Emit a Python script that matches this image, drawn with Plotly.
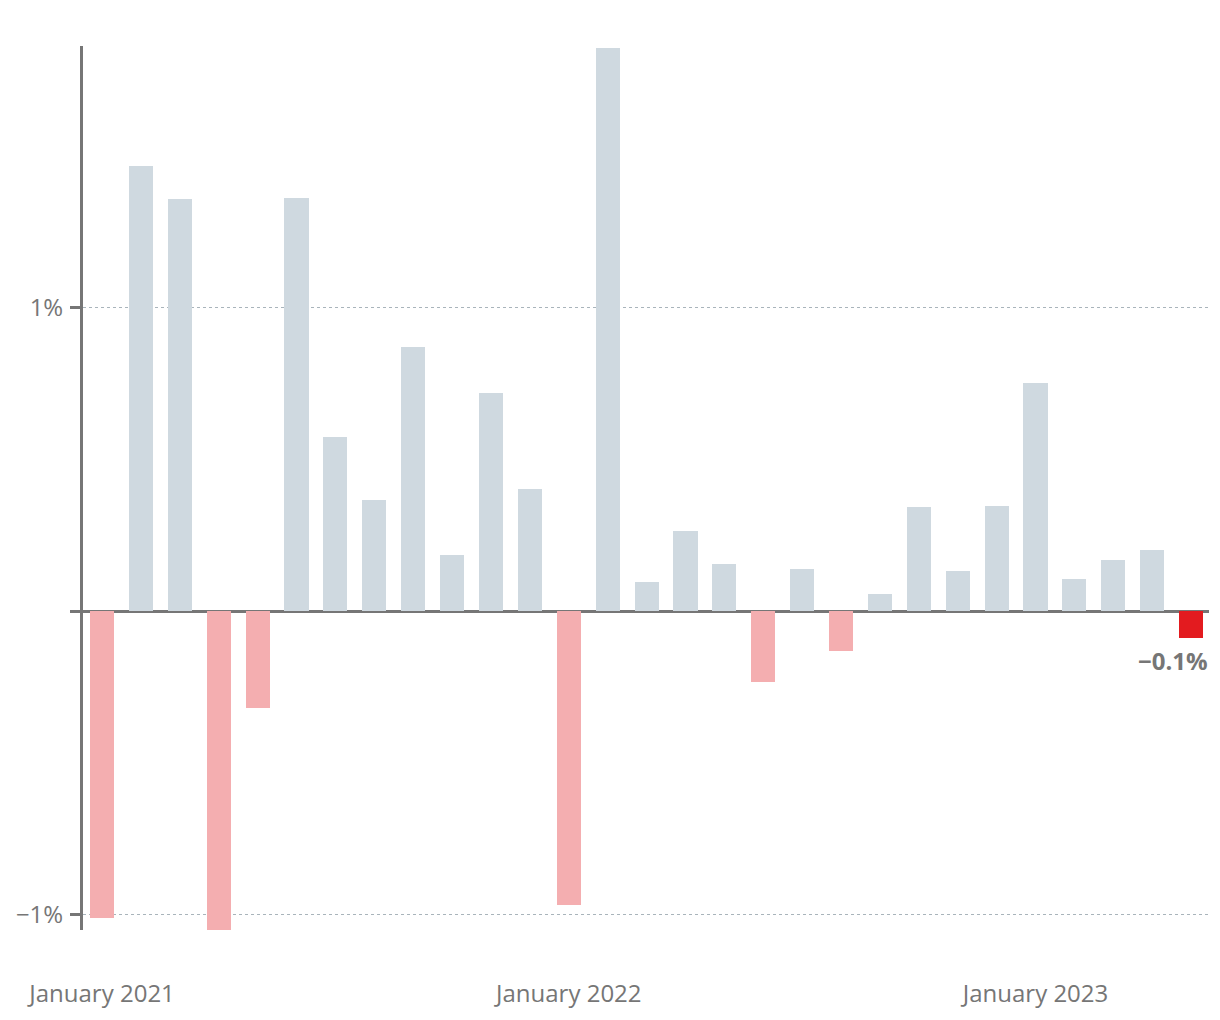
import plotly.graph_objects as go

months = ["Jan 2021","Feb 2021","Mar 2021","Apr 2021","May 2021","Jun 2021","Jul 2021","Aug 2021",
          "Sep 2021","Oct 2021","Nov 2021","Dec 2021","Jan 2022","Feb 2022","Mar 2022","Apr 2022",
          "May 2022","Jun 2022","Jul 2022","Aug 2022","Sep 2022","Oct 2022","Nov 2022","Dec 2022",
          "Jan 2023","Feb 2023","Mar 2023","Apr 2023","May 2023"]
values = [-1.01, 1.465, 1.355, -1.05, -0.32, 1.36, 0.572, 0.365, 0.868, 0.184, 0.717, 0.402,
          -0.967, 1.853, 0.095, 0.263, 0.155, -0.233, 0.138, -0.132, 0.056, 0.342, 0.132, 0.346,
          0.75, 0.105, 0.168, 0.2, -0.089]
tick_positions = [0, 12, 24]
tick_labels = ["January 2021", "January 2022", "January 2023"]
last_label = "−0.1%"

POS = "#cfd9e0"
NEG = "#f4aeb0"
HIGHLIGHT = "#e31b1f"
GREY = "#767676"

x = list(range(len(values)))
colors = [(POS if v >= 0 else NEG) for v in values]
colors[-1] = HIGHLIGHT

fig = go.Figure(go.Bar(x=x, y=values, marker=dict(color=colors, line=dict(width=0)), width=0.62))

fig.add_annotation(x=x[-1], y=values[-1], xref="x", yref="y", text="<b>%s</b>" % last_label,
                   showarrow=False, xanchor="right", yanchor="top", xshift=19, yshift=-4,
                   font=dict(size=24, color=GREY, family="Open Sans"))

fig.update_layout(
    width=1220, height=1020,
    margin=dict(l=83, r=11, t=46, b=90),
    paper_bgcolor="white", plot_bgcolor="white",
    showlegend=False,
    font=dict(family="Open Sans", color=GREY, size=24),
    bargap=0,
)
fig.update_xaxes(range=[-0.49, 28.46], tickvals=tick_positions, ticktext=tick_labels,
                 showgrid=False, zeroline=False, showline=False, ticks="",
                 ticklabelstandoff=47, tickfont=dict(size=24, color=GREY))
fig.update_yaxes(range=[-1.05, 1.86], tickvals=[-1, 0, 1], ticktext=["−1%", "", "1%"],
                 showgrid=True, gridcolor="#a9b4bb", griddash="dot", gridwidth=1,
                 zeroline=True, zerolinecolor=GREY, zerolinewidth=3,
                 showline=True, linecolor=GREY, linewidth=3,
                 ticks="outside", ticklen=10, tickwidth=3, tickcolor=GREY,
                 ticklabelstandoff=2, tickfont=dict(size=24, color=GREY))

fig.write_html("out.html")
